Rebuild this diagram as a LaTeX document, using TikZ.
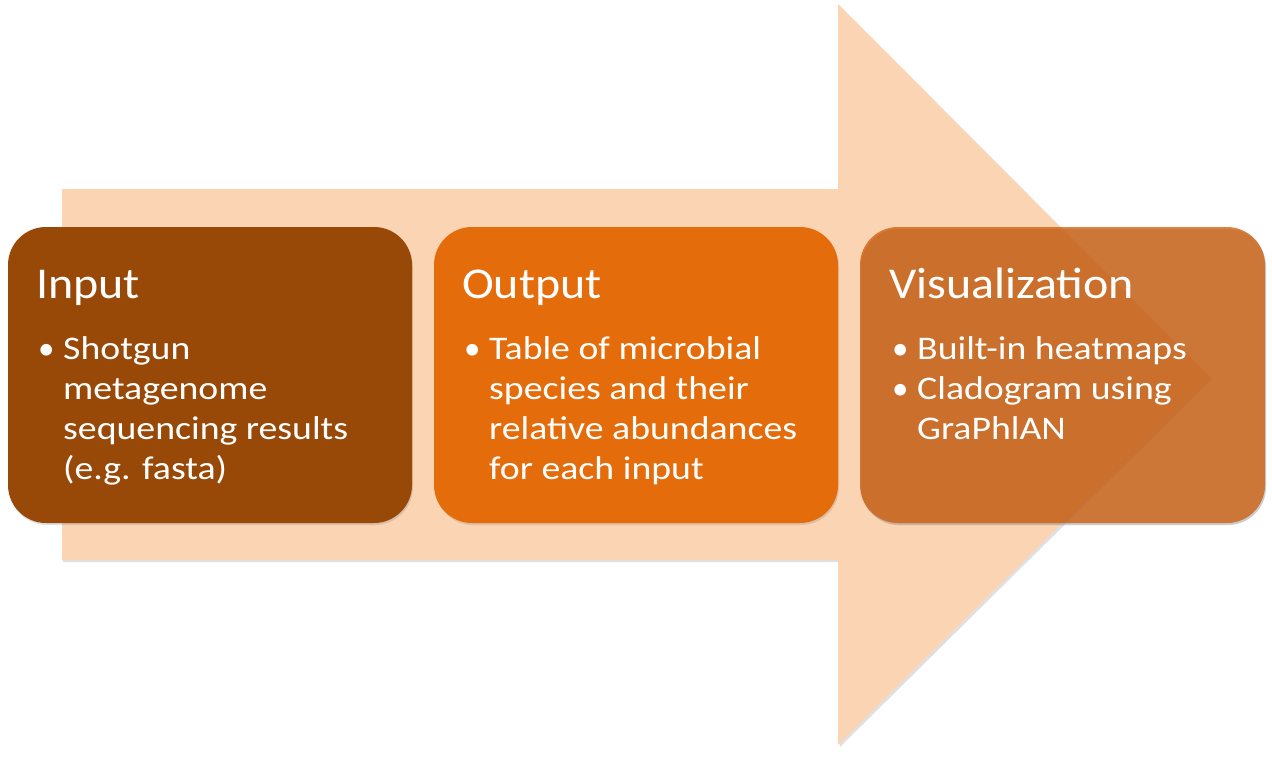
\documentclass[tikz,border=0pt]{standalone}
\usepackage{fontspec}
\setmainfont{Carlito}
\usetikzlibrary{shadows}
\definecolor{arrowfill}{RGB}{251,212,180}
\definecolor{inputfill}{RGB}{152,72,7}
\definecolor{outputfill}{RGB}{228,108,10}
\definecolor{visfill}{RGB}{205,88,5}
\newcommand{\tstr}[1]{\scalebox{1.09}[1]{#1}}
\newcommand{\istr}[1]{\scalebox{1.145}[1]{#1}}
\tikzset{
  box/.style={rounded corners=38pt, minimum width=404pt, minimum height=296pt, inner sep=0pt,
    drop shadow={opacity=0.25, shadow xshift=1pt, shadow yshift=-2pt}},
  title/.style={anchor=base west, inner sep=0pt, text=white, font=\fontsize{44}{54}\selectfont},
  item/.style={anchor=base west, inner sep=0pt, text=white, font=\fontsize{33}{40}\selectfont},
  bul/.style={anchor=base west, inner sep=0pt, text=white, font=\fontsize{33}{40}\selectfont},
}
\begin{document}
\begin{tikzpicture}[x=1pt,y=-1pt]
\useasboundingbox[fill=white] (0,0) rectangle (1272,757);
% big arrow
\fill[black,opacity=0.12] (63,191) -- (840,191) -- (840,6) -- (1212,379) -- (840,747) -- (840,562) -- (63,562) -- cycle;
\fill[arrowfill] (62,189) -- (838,189) -- (838,4) -- (1210,377) -- (838,745) -- (838,560) -- (62,560) -- cycle;
% boxes
\node[box, fill=inputfill] (inbox) at (210,375) {};
\node[box, fill=outputfill] (outbox) at (636,375) {};
\node[box, fill=visfill, fill opacity=0.74, drop shadow={opacity=0.2, shadow xshift=1pt, shadow yshift=-2pt}, minimum width=405pt] (visbox) at (1062.5,375) {};
% Input
\node[title] (intitle) at (36,298) {\tstr{Input}};
\node[bul] (inb1) at (38,359) {•};
\node[item] (in1) at (63,359) {\istr{Shotgun}};
\node[item] (in2) at (63,399) {\istr{metagenome}};
\node[item] (in3) at (63,439) {\istr{sequencing results}};
\node[item] (in4) at (63,479) {\istr{(e.g. fasta)}};
% Output
\node[title] (outtitle) at (462,298) {\tstr{Output}};
\node[bul] (outb1) at (464,359) {•};
\node[item] (out1) at (489,359) {\istr{Table of microbial}};
\node[item] (out2) at (489,399) {\istr{species and their}};
\node[item] (out3) at (489,439) {\istr{relative abundances}};
\node[item] (out4) at (489,479) {\istr{for each input}};
% Visualization
\node[title] (vistitle) at (889,298) {\tstr{Visualization}};
\node[bul] (visb1) at (892,359) {•};
\node[item] (vis1) at (917,359) {\istr{Built-in heatmaps}};
\node[bul] (visb2) at (892,399) {•};
\node[item] (vis2) at (917,399) {\istr{Cladogram using}};
\node[item] (vis3) at (917,439) {\istr{GraPhlAN}};
\end{tikzpicture}
\end{document}
